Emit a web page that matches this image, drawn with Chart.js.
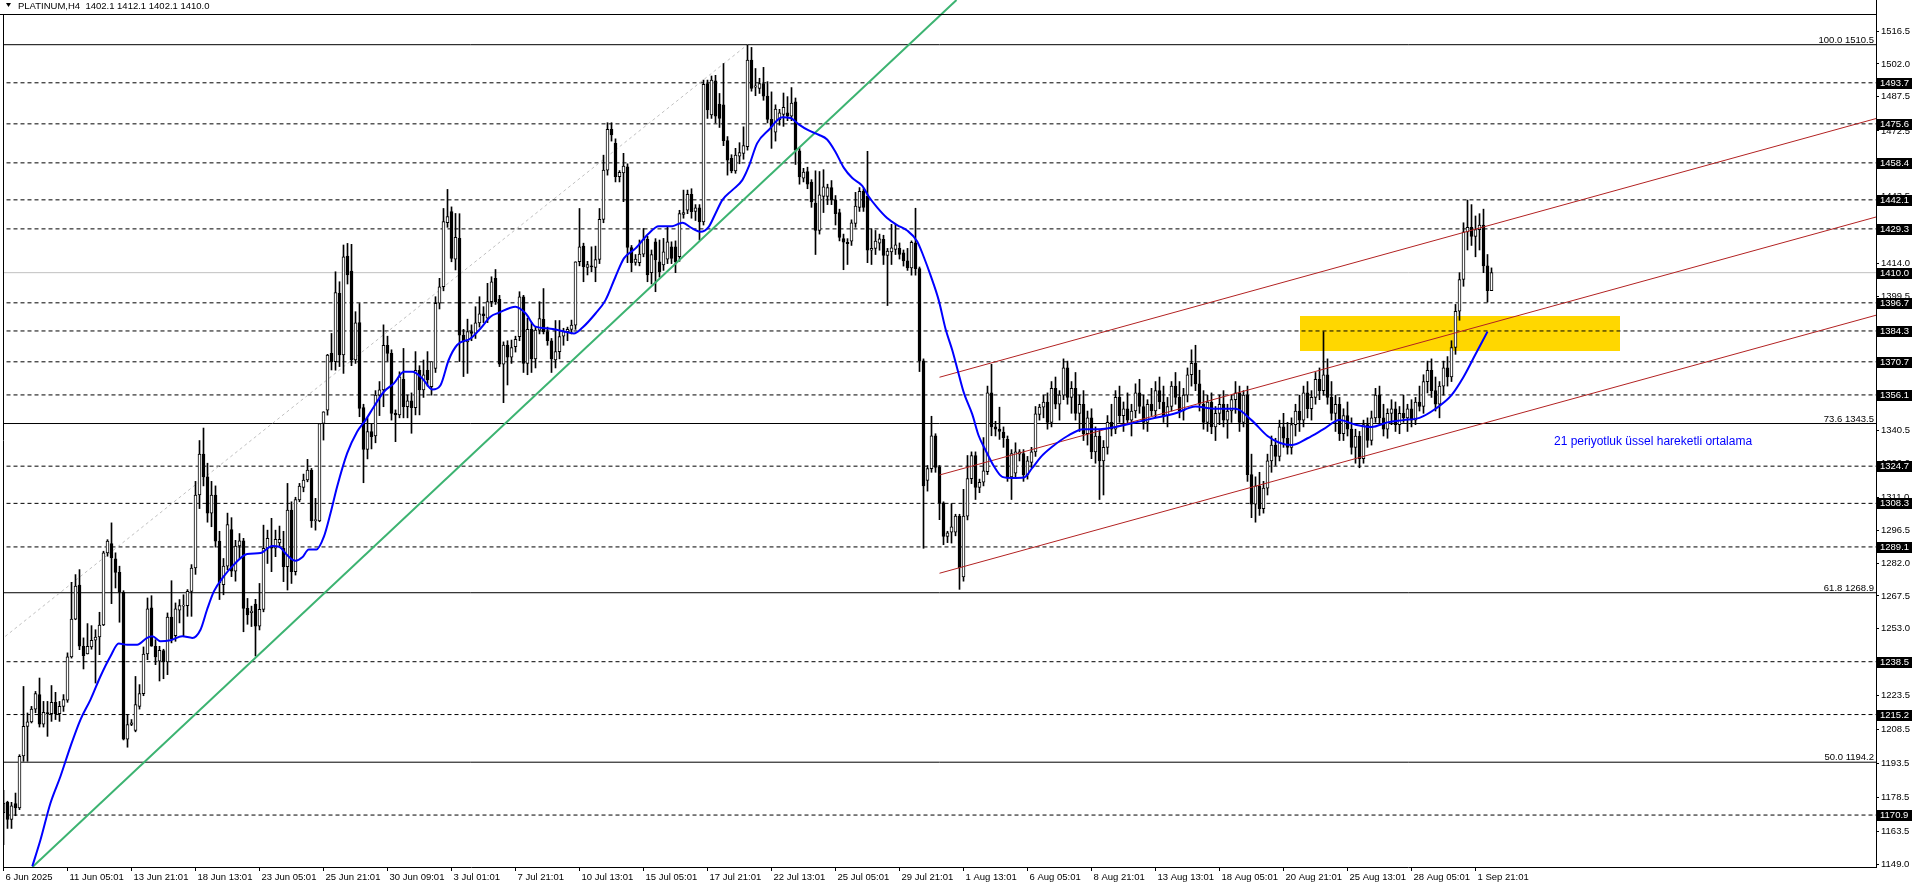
<!DOCTYPE html>
<html>
<head>
<meta charset="utf-8">
<script src="https://cdn.jsdelivr.net/npm/chart.js@4.4.0/dist/chart.umd.min.js"></script>
<style>
html, body { margin: 0; padding: 0; background: #fff; overflow: hidden; }
canvas { display: block; }
</style>
</head>
<body>
<canvas id="chart" width="1916" height="888"></canvas>
<script>
// H4 candles, one entry per bar
var candleOpen = [
	1172,1176.5,1169,1176,1174,1197,1210,1212,1217.6,1224,
	1211,1216,1215.6,1220.6,1215.6,1218.8,1221.5,1240.6,1257.3,1272.3,
	1245.3,1241.9,1245,1248,1249.4,1254.7,1286.5,1290.6,1283.8,1277.9,
	1269.1,1204.4,1210.8,1208.2,1218.8,1224.4,1241.9,1262.2,1245.3,1238.7,
	1243.4,1238.4,1258.2,1250,1261.2,1263,1263.2,1269.5,
	1279.8,1312,1330,1320,1304,1312,1291.6,1272.5,1280.6,1296.7,1278.4,1289.5,
	1291.8,1262,1260.1,1263.9,1254.2,1261.6,1288.5,1289.1,1288.5,1290.9,
	1288.5,1280.4,1305.3,1278.2,1309.8,1315.3,1318.6,1323,1300.6,1300.6,
	1343.5,1349.4,
	1374.4,1370.8,1400.9,1373.7,1417.3,1410.7,1371.5,1388,
	1350.5,1332.1,1339.9,1338,1356,1358.3,1378,1374.4,1348,1347.3,
	1363,1350.9,1353.5,1350.5,1367,1358.3,1367,1359.7,1367.8,1396.5,
	1403.8,1432,1436.9,1416,1425.1,1382.5,1379.5,1384,1383.2,1387.9,
	1391.8,1389.9,1397.2,1407.5,1398.2,1369.7,1378.1,1372.8,
	1377.4,1381.8,1399.4,1370,1385,1372,1384.7,1389.4,1384,1380,1371.5,1375.2,
	1382,1384,1385,1386.9,1414.8,1421.7,1412.3,1413,1412.3,1415.8,
	1433.5,1455.2,1473.2,1467,1452.3,1454,1456.7,1421.1,1414.5,1414.4,
	1418.2,1424.7,1410,1423.6,1414.8,1413.4,1416,1421.4,1421.4,1417,
	1435.7,1437.6,1444.5,1437,1438.6,1432.4,1493.4,1479.5,1494.6,1484.3,
	1484,1468.2,1460.4,1454.9,1461.4,1462.6,1465.5,1503.7,1491.8,1491.2,
	1493.4,1487.8,1477.6,
	1471.9,1477.4,1479.8,1480.5,1479,1485.3,1463.7,
	1451.7,1454.6,1449.9,1440.7,1428.6,1443.6,1443.6,1447.5,1442,1436.5,
	1425,1423.4,1423.9,1431.7,1438.8,1445.9,1443.6,1419.9,1420.7,1423,
	1424.7,1417.6,1419.2,1420.2,1420.7,1418.7,1415.2,1412.1,1423.1,1411.8,
	1371.1,1318.4,1323.6,1338.1,1324.2,1308.5,1293.7,1295.6,1295.6,1302.7,
	1275.9,1302.7,1319.2,1329.4,1315.3,1317.6,1322.3,1357,1342,1341,
	1339.7,1336.5,1320,1321.6,1330,1330.2,1320.8,1326.3,1331,1347.5,
	1350.7,1353,1344,1359,1352,1356,1368,1355,1359,1348,
	1352,1339,1346,1331,1338,1327,1333,1344,1341,1355,
	1347,1350,1345,1349,1357,1351,1344,1352,1349,1358,
	1353,1347,1351,1360,1355,1349,1356,1365,1370,1361,
	1352,1344,1353,1342,1348,1352,1345,1349,1354,1357,
	1344,1356,1321,1308,1316,1306,1315,1327,1334,1329,
	1342,1337,1333,1343,1349,1345,1357,1350,1355,1363,
	1358,1365,1355,1348,1352,1339,1347,1341,1333,1338,
	1328,1343,1336,1346,1356,1346,1341,1348,1350,1343,
	1348,1346,1350,1345,1353,1351,1362,1367,1358,1352,
	1360,1368,1364,1377,1393,1407,1428,1430,1426,1429,
	1431,1413,1402.1
];
var candleHigh = [
	1181.8,1177,1176.5,1180.6,1197.5,1227.6,1215.9,1218.8,1225.4,1231.3,
	1221,1221,1228,1225,1221,1224,1242.4,1273.5,1276.9,1279.1,
	1249,1255.3,1254.4,1252.6,1260.3,1287.2,1292.3,1299.7,1286.5,1280.6,
	1269.8,1215.2,1213,1232,1228.4,1245,1266.6,1267.6,1248.2,1245.3,
	1244,1260,1274.2,1264.4,1265.9,1268,1270.3,1281.3,
	1318,1336,1341.5,1326,1318,1316,1296,1284,1304,1302,1292,1295,
	1292.9,1266.4,1263,1266,1273,1298.7,1296.5,1301.7,1296.5,1298.3,
	1296,1317.1,1309,1311,1317.1,1321.2,1327.7,1323.7,1310.5,1343.5,
	1348.7,1374,
	1383.2,1410.4,1406,1422.2,1422.9,1422.5,1392.8,1396.4,
	1352,1346,1343.4,1358,1362,1387,1382,1376,1349.5,1366.3,
	1376.6,1356,1357,1375.2,1369,1371.5,1375.2,1370.8,1399.4,1407.5,
	1438.3,1446.7,1439,1436.1,1436,1385,1389.5,1387,1395,1399.4,
	1395,1405.3,1408.2,1411.4,1400,1379.5,1380,1380.3,
	1382,1401.6,1400,1390,1388,1386,1397.2,1403,1386,1381,1388.9,1388.9,
	1385.5,1386,1389.1,1414.8,1438.3,1423,1415,1421.4,1421.7,1438.3,
	1461.8,1476.1,1476.1,1469,1455,1462.6,1458,1422,1418,1424.4,
	1429.5,1426,1420,1425,1424.4,1425.1,1430,1423.6,1424,1437.5,
	1446.4,1446.4,1447,1440,1440,1494.9,1494.9,1496.7,1497,1489,
	1502.2,1470,1462,1464.8,1467.3,1474.3,1510.3,1509.3,1500,1495.7,
	1500.5,1494.2,1489.7,
	1484,1482,1489.2,1487.6,1491.6,1487,1465,
	1456,1456.5,1451,1454.9,1454.6,1455.4,1449,1450.6,1444,1438,
	1427,1425,1433.3,1445.4,1447.5,1447,1463.5,1429.4,1428.6,1427,
	1426.5,1420.7,1431.3,1431.3,1423.1,1420,1420.7,1424,1438.4,1412.5,
	1372,1325,1346.7,1339,1325,1309,1296,1308.2,1303.5,1303.5,
	1314.5,1329.4,1331,1331,1319,1337.3,1360,1369.6,1344.5,1350.7,
	1342,1338,1332,1335,1332,1332,1329,1333,1351,1352,
	1356,1357,1362,1364,1358,1372,1371,1362,1366,1356,
	1358,1349,1350,1342,1341,1336,1347,1352,1358,1360,
	1353,1357,1352,1361,1363,1356,1354,1359,1362,1364,
	1360,1355,1362,1366,1362,1359,1368,1376,1378,1367,
	1358,1356,1357,1351,1356,1358,1352,1356,1362,1360,
	1358,1360,1330,1320,1322,1318,1330,1338,1337,1345,
	1348,1344,1346,1352,1356,1360,1362,1358,1366,1368,
	1384,1372,1362,1356,1355,1350,1353,1346,1341,1340,
	1345,1346,1349,1359,1360,1352,1350,1354,1353,1351,
	1356,1352,1354,1355,1360,1365,1371,1372,1364,1362,
	1371,1373,1380,1396,1410,1432,1442,1440,1435,1436,
	1438,1418,1412.1
];
var candleLow = [
	1157.8,1165,1165,1170.6,1173.3,1194.6,1194.6,1211.5,1216,1209.7,
	1209.7,1205.6,1212.2,1213,1212.2,1216.6,1220.6,1240.1,1257,1243.8,
	1235.3,1241.9,1244,1229.1,1241.6,1254.4,1285,1264.1,1271,1255.9,
	1204,1200.8,1210.3,1207.6,1217.6,1223.5,1239.4,1245.3,1237.2,1230,
	1231,1232.8,1246.8,1247.5,1255.6,1249.7,1258.5,1258.5,
	1277,1306,1316,1300,1298,1289,1265.9,1268,1279,1276,1274,1284,
	1251.7,1255,1254,1241,1252.5,1260.5,1281.8,1278.2,1284.8,1289,
	1273.8,1270.1,1273,1276.7,1309,1313.4,1317.8,1297.7,1296.5,1300.2,
	1336.2,1347.2,
	1367.1,1367,1368.6,1365.6,1405,1369,1370,1346.5,
	1317.4,1327.9,1332.3,1335,1347,1350.9,1371,1345,1335.5,1346,
	1346,1346,1339.2,1347.3,1347.3,1355,1360,1356,1366,1394,
	1402,1430,1414.8,1411.2,1370.8,1364.2,1365.6,1380,1381,1386,
	1388,1388,1395,1396,1368.6,1352.7,1360.5,1370,
	1375,1380,1366,1365,1366,1368,1383,1383,1378,1366,1368,1372,
	1378,1380,1383,1385,1413,1406,1409,1410.4,1406,1414,
	1432,1453,1468,1450,1450,1441.3,1414.4,1410.4,1413.3,1413,
	1417,1406,1405,1401.6,1408,1411,1414,1414,1410,1415,
	1434,1436,1434,1433,1424.4,1431,1478,1478,1476,1474,
	1466,1453,1454,1453.8,1458,1460,1464,1490,1488,1489,
	1486,1476,1464.8,
	1468,1475,1474.5,1477,1477,1457.7,1449,
	1450,1447,1438.8,1418,1427,1436.5,1440,1440,1431,1424,
	1411.3,1413.6,1422,1430,1437,1437,1414.4,1413.6,1418,1419.9,
	1413.6,1395.5,1413.6,1418,1416,1412.9,1411,1408.9,1408.9,1366.4,
	1288.5,1313.7,1322,1322,1301.1,1290.1,1291,1290.8,1294,1270.4,
	1274,1301,1317,1310,1313,1316,1321,1338.1,1338,1336.5,
	1333,1318,1310,1320,1327,1318,1319,1324,1329,1345,
	1346,1341,1342,1350,1345,1354,1352,1348,1345,1340,
	1336,1334,1328,1326,1310,1312,1330,1338,1339,1344,
	1340,1343,1338,1346,1348,1341,1340,1347,1346,1350,
	1344,1342,1349,1352,1346,1345,1353,1360,1358,1349,
	1341,1340,1339,1336,1343,1342,1337,1344,1348,1340,
	1342,1318,1302,1300,1303,1304,1312,1322,1325,1327,
	1333,1330,1330,1338,1340,1342,1346,1345,1352,1354,
	1356,1352,1345,1340,1336,1336,1338,1330,1326,1324,
	1326,1333,1334,1344,1343,1338,1337,1343,1340,1339,
	1344,1340,1342,1343,1349,1348,1357,1355,1349,1346,
	1356,1360,1362,1374,1389,1404,1420,1422,1417,1420,
	1410,1397,1402.1
];
var candleClose = [
	1176.2,1169,1175,1174,1196.8,1210,1212,1217.6,1224.4,1211,
	1216.2,1215.6,1220.6,1215.6,1218.8,1221.8,1240.6,1257.3,1271.8,1245.3,
	1241.2,1245.3,1247.9,1249.4,1254.7,1286.5,1291.7,1284.2,1277.9,1269.1,
	1204.4,1210.8,1211.5,1219.6,1224.4,1241.9,1261.8,1245.3,1240.6,1243.5,
	1238.4,1258.2,1248.5,1261.8,1263.2,1263.2,1269.5,1279.8,
	1312,1330,1320,1304,1312,1291.6,1273.2,1280.6,1299,1278.4,1289.5,1291.8,
	1262,1259.1,1260.8,1254.2,1261.6,1288.5,1292.9,1288.6,1292.4,1292.4,
	1280.4,1305.3,1278.2,1310,1315.9,1318.6,1323,1300.6,1301.2,1343.5,
	1348.7,1373.7,
	1370.8,1401.2,1373.7,1417,1409,1371.5,1387.9,1350.2,
	1332.1,1339.9,1337.7,1356,1358.3,1378,1374.4,1348,1347.3,1364.1,
	1350.9,1353.5,1350.5,1367,1358.3,1365,1362.7,1370.8,1396.5,1403.8,
	1432.5,1434.7,1416.3,1425.6,1382.5,1379.5,1384,1383.2,1387.9,1391.8,
	1391,1397.2,1406,1397.2,1369.7,1378.1,1372.8,1377,
	1380.6,1399.4,1370,1385,1372,1384.7,1389.8,1384,1380,1372,1375.2,1381.8,
	1384,1385,1386.9,1414.8,1421.4,1412.6,1413.6,1412.5,1415.8,1433.5,
	1455.2,1473.2,1470.7,1452.3,1454.2,1457,1421.1,1414.4,1416,1418.2,
	1424.7,1409,1418,1415.6,1410.4,1419.2,1423.6,1416.3,1414.8,1436.1,
	1436.5,1444.5,1436.9,1438.6,1432.4,1493,1481.7,1494.9,1479,1478,
	1468.2,1459.6,1454.9,1461.8,1462.9,1466,1503.7,1491.2,1492.4,1493.4,
	1487.8,1477.6,1474.3,
	1482.1,1480.5,1482.9,1479,1484.8,1464,1452.2,
	1454.3,1449,1441.2,1428.6,1444.3,1447.8,1447.5,1442,1436,1425.5,
	1423.4,1422.8,1432,1439.3,1445.9,1438.8,1419.9,1420.7,1423.9,1424.9,
	1417.6,1419.5,1421,1422.3,1418,1415.2,1412.1,1423.4,1411.8,1371.1,
	1316,1323.6,1338.1,1324.2,1308.5,1293.7,1295.3,1298,1302.7,1279.8,
	1302.7,1319.2,1329.4,1315.3,1317.6,1322.6,1357,1342,1341,1340,
	1337.3,1320,1330.2,1331,1331,1320.8,1327,1331,1347.8,1350.7,
	1353,1344,1359,1352,1356,1368,1355,1359,1348,1352,
	1339,1346,1331,1338,1327,1333,1344,1341,1355,1347,
	1350,1345,1349,1357,1351,1344,1352,1349,1358,1353,
	1347,1351,1360,1355,1349,1356,1365,1370,1361,1352,
	1344,1353,1342,1348,1352,1345,1349,1354,1357,1344,
	1356,1321,1308,1316,1306,1315,1327,1334,1329,1342,
	1337,1333,1343,1349,1345,1357,1350,1355,1363,1358,
	1365,1355,1348,1352,1339,1347,1341,1333,1338,1328,
	1343,1336,1346,1356,1346,1341,1348,1350,1343,1348,
	1346,1350,1345,1353,1351,1362,1367,1358,1352,1360,
	1368,1364,1377,1393,1407,1428,1430,1426,1429,1431,
	1413,1402.1,1410
];

// time axis: one label every 16 bars
var timeTickIdx  = [0,16,32,48,64,80,96,112,128,144,160,176,192,208,224,240,256,272,288,304,320,336,352,368];
var timeTickText = ['6 Jun 2025','11 Jun 05:01','13 Jun 21:01','18 Jun 13:01','23 Jun 05:01','25 Jun 21:01','30 Jun 09:01','3 Jul 01:01','7 Jul 21:01','10 Jul 13:01','15 Jul 05:01','17 Jul 21:01','22 Jul 13:01','25 Jul 05:01','29 Jul 21:01','1 Aug 13:01','6 Aug 05:01','8 Aug 21:01','13 Aug 13:01','18 Aug 05:01','20 Aug 21:01','25 Aug 13:01','28 Aug 05:01','1 Sep 21:01'];

var priceTicks = [1516.5,1502.0,1487.5,1472.5,1458.0,1443.5,1429.0,1414.0,1399.5,1385.0,1370.5,1355.5,1340.5,1326.0,1311.0,1296.5,1282.0,1267.5,1253.0,1238.5,1223.5,1208.5,1193.5,1178.5,1163.5,1149.0];

// dashed horizontal levels (labelled on the price axis)
var levelPrices = [1493.7,1475.6,1458.4,1442.1,1429.3,1396.7,1384.3,1370.7,1356.1,1324.7,1308.3,1289.1,1238.5,1215.2,1170.9];
var lastPrice = 1410.0;

// fibonacci levels
var fibPct   = ['100.0','73.6','61.8','50.0'];
var fibPrice = [1510.5,1343.5,1268.9,1194.2];

// 21 period EMA
var emaIdx = [7.2,9.25,11.75,14.25,16.75,19.25,21.75,24.25,26.75,28.8,30.9,33.4,35.9,37.2,39.25,41.75,44.7,47.2,49.25,50.9,52.6,55.1,57.6,60.9,64.25,67.2,68.9,70.9,73,74.7,76.3,78.25,80.1,81.75,83.4,85.9,88.4,90.5,92.6,95.1,97.6,100.1,102.2,104.7,107.2,109.25,111.3,113.4,116.75,119.25,121.75,123.8,128,130.5,133,136.3,139.7,142.6,144.7,148,150.5,153,155.1,158,161.3,163.8,167.2,169.7,172.2,174.25,176.3,178,179.7,182.2,184.7,186.3,188.4,191.3,194.7,196.75,198.8,201.3,203.8,205.9,208,210.1,212.2,214.7,216.3,218.4,220.9,223.4,225.9,228.4,230.1,231.75,233.8,235.5,237.2,238.4,240.1,242.2,243.8,245.5,247.6,249.7,252.2,255.1,257.2,259.25,262,266,270,274,278,283,288,293,298,303,308,312,316,319,322,326,330,334,338,342,346,350,354,358,362,365,368,371];
var emaVal = [1148.3,1160,1176.2,1188,1201.2,1213,1221.8,1232.1,1240.9,1246.5,1246,1246,1249,1249.7,1247.5,1248,1249.7,1249,1252.6,1261.5,1269.5,1276.2,1281.3,1286,1286.4,1289.5,1289.2,1285.5,1283,1284.5,1288,1288,1293.6,1303.9,1315.6,1330.3,1339.9,1345,1350.9,1357.5,1361.2,1366.3,1366.3,1363.4,1358.5,1360.4,1371.5,1378.1,1381,1385.4,1390.6,1392.3,1395,1392.1,1386.2,1385.4,1384.3,1383.2,1385.7,1392,1397.9,1408.2,1416.3,1420.7,1427.3,1430.5,1430.5,1432,1429.5,1428,1430.2,1436.1,1442,1446.4,1450.8,1456.7,1467,1472.9,1478.5,1478.2,1475.4,1472.7,1470.8,1468.7,1463.2,1456.2,1451.7,1448.3,1443.6,1438.8,1434.1,1431,1428.6,1423.9,1416.8,1408.9,1397.9,1385.3,1375.8,1368,1357,1347.5,1338.1,1331.8,1324.7,1320,1319.5,1319.7,1323.9,1328.6,1333,1338,1341,1341,1342,1344,1346,1348,1351,1350,1350,1345,1338,1335,1334,1337,1341,1345,1343,1342,1344,1345,1346,1350,1356,1364,1374,1384];

// drawn objects
var greenIdx = [7.25, 238.25];  var greenVal = [1148.0, 1530.2];
var grayIdx  = [-0.75, 186];    var grayVal  = [1248.0, 1510.5];
var chanIdx  = [234, 468.25];
var chanTop  = [1363.9, 1478.0];
var chanMid  = [1320.8, 1434.6];
var chanLow  = [1277.5, 1391.3];
var zoneIdx  = [324, 404];      var zonePrice = [1375.4, 1390.9];

var symbolText = 'PLATINUM,H4  1402.1 1412.1 1402.1 1410.0';
var emaNote = '21 periyotluk üssel hareketli ortalama';

var FONT = 'Liberation Sans, Arial, sans-serif';

function pts(xs, ys) {
	var out = [];
	for (var i = 0; i < xs.length; i++) out.push({x: xs[i], y: ys[i]});
	return out;
}
function flat(v) {
	return [{x: -1, y: v}, {x: 470, y: v}];
}

var bodies = [], wicks = [], bodyColor = [];
for (var i = 0; i < candleOpen.length; i++) {
	var o = candleOpen[i], c = candleClose[i];
	bodies.push({x: i, y: [o, c]});
	wicks.push({x: i, y: [Math.min(candleLow[i], o, c), Math.max(candleHigh[i], o, c)]});
	bodyColor.push(c >= o ? '#ffffff' : '#000000');
}

var datasets = [
	{type: 'line', data: pts(emaIdx, emaVal), borderColor: '#0000ff', borderWidth: 2, pointRadius: 0, cubicInterpolationMode: 'monotone', order: 0},
	{type: 'line', data: pts(greenIdx, greenVal), borderColor: '#3cb371', borderWidth: 2, pointRadius: 0, order: 1},
	{type: 'line', data: pts(chanIdx, chanTop), borderColor: '#b22222', borderWidth: 1, pointRadius: 0, order: 2},
	{type: 'line', data: pts(chanIdx, chanMid), borderColor: '#b22222', borderWidth: 1, pointRadius: 0, order: 2},
	{type: 'line', data: pts(chanIdx, chanLow), borderColor: '#b22222', borderWidth: 1, pointRadius: 0, order: 2},
	{type: 'bar', data: bodies, backgroundColor: bodyColor, borderColor: '#000', borderWidth: 1, borderSkipped: false,
		barThickness: 3, minBarLength: 1, grouped: false, order: 3},
	{type: 'bar', data: wicks, backgroundColor: '#000', borderWidth: 0, barThickness: 1, grouped: false, order: 4},
	{type: 'line', data: pts(grayIdx, grayVal), borderColor: '#c0c0c0', borderWidth: 1, borderDash: [3, 3], pointRadius: 0, order: 5},
	{type: 'line', data: flat(lastPrice), borderColor: '#c0c0c0', borderWidth: 1, pointRadius: 0, order: 6}
];
levelPrices.forEach(function(v){
	datasets.push({type: 'line', data: flat(v), borderColor: '#000', borderWidth: 1, borderDash: [4, 3], pointRadius: 0, order: 6});
});
fibPrice.forEach(function(v){
	datasets.push({type: 'line', data: flat(v), borderColor: '#000', borderWidth: 1, pointRadius: 0, order: 6});
});

var decor = {
	id: 'decor',
	beforeDatasetsDraw: function(chart){
		var ctx = chart.ctx, xs = chart.scales.x, ys = chart.scales.y, a = chart.chartArea;
		ctx.save();
		ctx.beginPath(); ctx.rect(a.left, a.top, a.right - a.left, a.bottom - a.top); ctx.clip();
		var x0 = xs.getPixelForValue(zoneIdx[0]), x1 = xs.getPixelForValue(zoneIdx[1]);
		var y0 = ys.getPixelForValue(zonePrice[1]), y1 = ys.getPixelForValue(zonePrice[0]);
		ctx.fillStyle = '#ffd700';
		ctx.fillRect(Math.round(x0), Math.round(y0), Math.round(x1 - x0), Math.round(y1 - y0));
		ctx.restore();
	},
	afterDraw: function(chart){
		var ctx = chart.ctx, ys = chart.scales.y, a = chart.chartArea;
		ctx.save();
		// frame
		ctx.strokeStyle = '#000'; ctx.lineWidth = 1;
		ctx.beginPath();
		ctx.moveTo(a.left + 0.5, 14); ctx.lineTo(a.left + 0.5, a.bottom);
		ctx.moveTo(0, 14.5); ctx.lineTo(a.right, 14.5);
		ctx.stroke();
		// header
		ctx.fillStyle = '#000';
		ctx.beginPath(); ctx.moveTo(6, 3); ctx.lineTo(11, 3); ctx.lineTo(8.5, 7); ctx.closePath(); ctx.fill();
		ctx.font = '9.5px ' + FONT; ctx.textBaseline = 'middle'; ctx.textAlign = 'left';
		ctx.fillText(symbolText, 18, 6);
		// fib labels
		ctx.textAlign = 'right'; ctx.textBaseline = 'alphabetic';
		for (var i = 0; i < fibPrice.length; i++) {
			ctx.fillText(fibPct[i] + ' ' + fibPrice[i].toFixed(1), a.right - 2, Math.round(ys.getPixelForValue(fibPrice[i])) - 2);
		}
		// note about EMA
		ctx.fillStyle = '#0000ff'; ctx.textAlign = 'left'; ctx.textBaseline = 'middle';
		ctx.font = '12px ' + FONT;
		ctx.fillText(emaNote, 1554, 442);
		// price boxes
		ctx.font = '9.5px ' + FONT;
		levelPrices.concat([lastPrice]).forEach(function(v){
			var y = Math.round(ys.getPixelForValue(v));
			ctx.fillStyle = '#000';
			ctx.fillRect(a.right + 1, y - 5, 35, 11);
			ctx.fillStyle = '#fff';
			ctx.fillText(v.toFixed(1), a.right + 4, y + 0.5);
		});
		ctx.restore();
	}
};

new Chart(document.getElementById('chart'), {
	type: 'bar',
	data: {datasets: datasets},
	options: {
		responsive: false,
		animation: false,
		devicePixelRatio: 1,
		layout: {padding: {left: 3, top: 0, right: 0, bottom: 0}},
		plugins: {legend: {display: false}, tooltip: {enabled: false}},
		scales: {
			x: {
				type: 'linear', position: 'bottom', min: -0.125, max: 468.125, offset: false,
				grid: {display: true, offset: false, drawOnChartArea: false, drawTicks: true, tickLength: 4, color: '#000'},
				border: {display: true, color: '#000'},
				ticks: {
					autoSkip: false, maxRotation: 0, minRotation: 0, align: 'start', labelOffset: 2, padding: 1,
					color: '#000', font: {family: FONT, size: 9.5},
					callback: function(v){ var k = timeTickIdx.indexOf(v); return k < 0 ? '' : timeTickText[k]; }
				},
				afterBuildTicks: function(s){ s.ticks = timeTickIdx.map(function(v){ return {value: v}; }); },
				afterFit: function(s){ s.height = 21; s.paddingLeft = 0; s.paddingRight = 0; }
			},
			y: {
				type: 'linear', position: 'right', min: 1148.0, max: 1530.2, offset: false,
				grid: {display: true, drawOnChartArea: false, drawTicks: true, tickLength: 3, color: '#000'},
				border: {display: true, color: '#000'},
				ticks: {
					padding: 2, color: '#000', font: {family: FONT, size: 9.5},
					callback: function(v){ return Number(v).toFixed(1); }
				},
				afterBuildTicks: function(s){ s.ticks = priceTicks.map(function(v){ return {value: v}; }); },
				afterFit: function(s){ s.width = 40; s.paddingTop = 0; s.paddingBottom = 0; }
			}
		}
	},
	plugins: [decor]
});
</script>
</body>
</html>
